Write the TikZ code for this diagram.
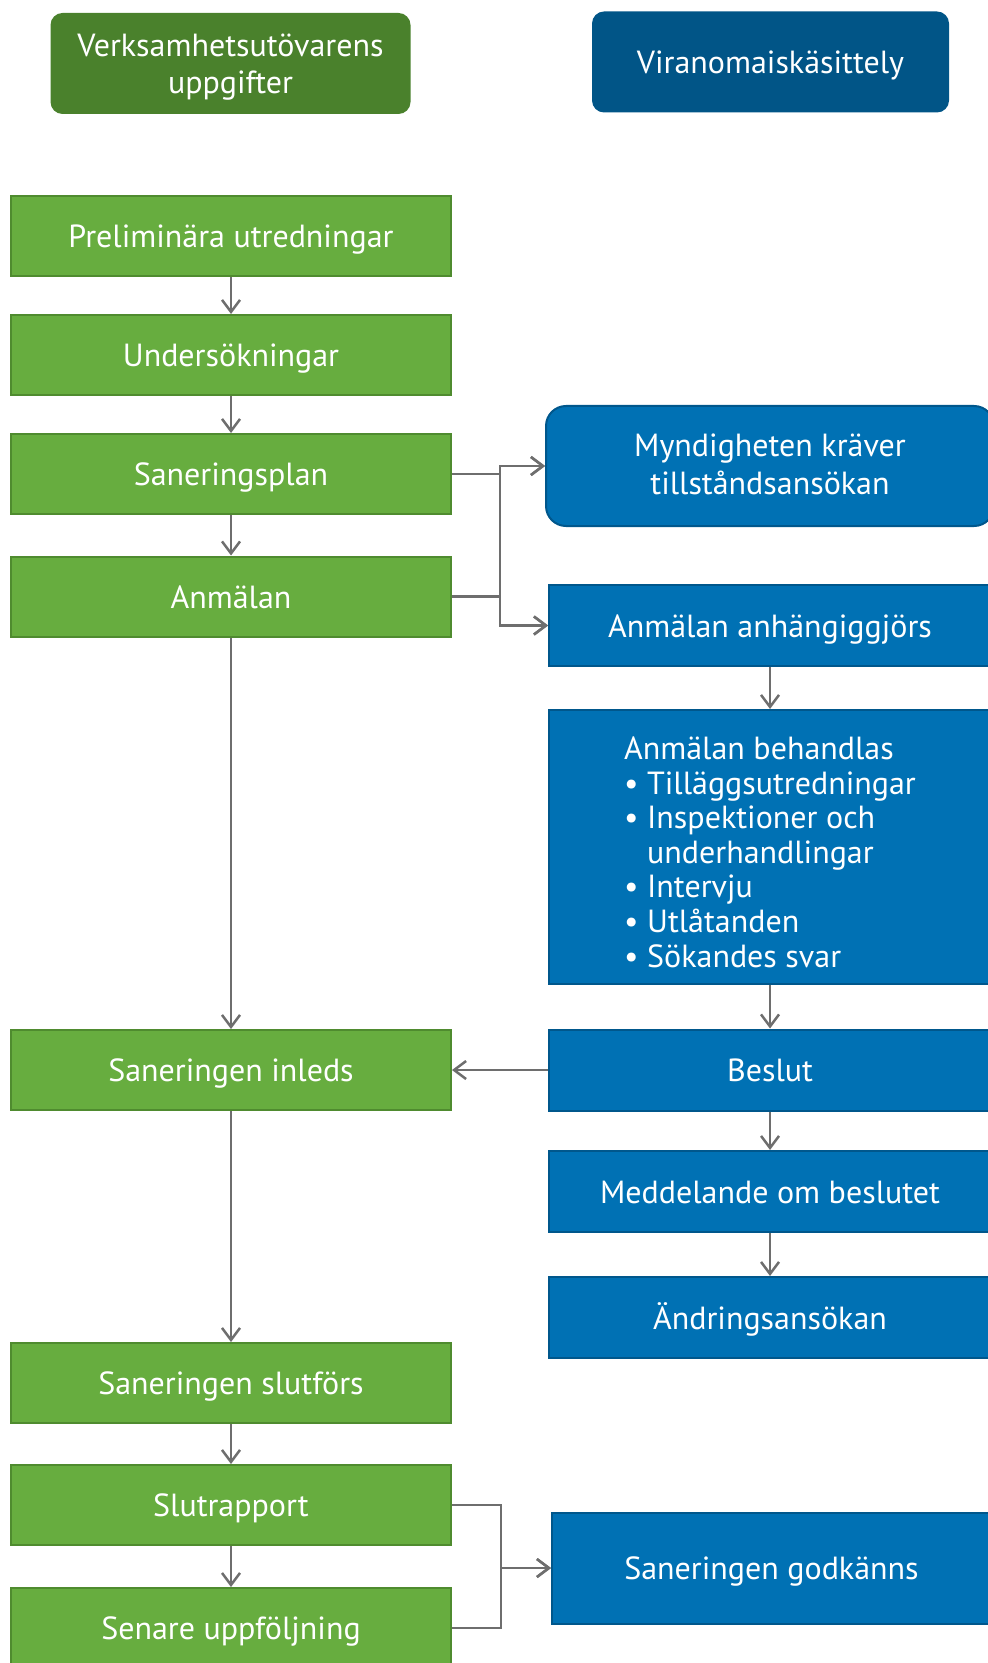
\documentclass[tikz,border=0pt]{standalone}
\usepackage{fontspec}
\setmainfont{PT Sans}
\usetikzlibrary{arrows.meta}
\definecolor{opGreen}{HTML}{67AD3F}
\definecolor{opGreenLine}{HTML}{4F8B2F}
\definecolor{opHead}{HTML}{4A812C}
\definecolor{authBlue}{HTML}{0071B4}
\definecolor{authBlueLine}{HTML}{00578C}
\definecolor{authHead}{HTML}{015587}
\definecolor{flowLine}{HTML}{6E6E6E}
\tikzset{
  sanfig/.style={
    x=0.5pt, y=-0.5pt,
    every node/.append style={font=\fontsize{16}{17.5}\selectfont, text=white},
    >={Straight Barb[length=6pt, width=9pt]},
  },
  headbox/.style={
    rounded corners=6pt, align=center, inner sep=2pt, text depth=0pt,
    minimum width=180pt, minimum height=50.5pt,
  },
  ophead/.style={headbox, fill=opHead},
  authhead/.style={headbox, fill=authHead, minimum width=178.5pt, text height=11.5pt},
  opstep/.style={
    draw=opGreenLine, line width=1pt, fill=opGreen, align=center,
    minimum width=220pt, minimum height=40pt, inner sep=2pt,
    text height=11.5pt, text depth=0pt,
  },
  authstep/.style={
    draw=authBlueLine, line width=1pt, fill=authBlue, align=center,
    minimum width=221pt, minimum height=40.5pt, inner sep=2pt,
    text height=11.5pt, text depth=0pt,
  },
  % Myndighetens krav ritas med rundade hoern.
  authround/.style={authstep, text height=, text depth=2pt, rounded corners=10pt, minimum width=224pt, minimum height=60pt},
  flow/.style={draw=flowLine, line width=1.25pt, ->},
}
\begin{document}
\begin{tikzpicture}[sanfig]
  \useasboundingbox (0,0) rectangle (987,1663);
  \node[ophead] (OpHead) at (230.5,63.5) {Verksamhetsutövarens\\[1pt]uppgifter};
  \node[authhead] (AuthHead) at (770.5,62) {Viranomaiskäsittely};
  \node[opstep] (Prelim) at (231,236.5) {Preliminära utredningar};
  \node[opstep] (Unders) at (231,355) {Undersökningar};
  \node[opstep] (Plan) at (231,474) {Saneringsplan};
  \node[opstep] (Anm) at (231,596.5) {Anmälan};
  \node[opstep] (Inleds) at (231,1070) {Saneringen inleds};
  \node[opstep] (Slutfors) at (231,1383) {Saneringen slutförs};
  \node[opstep] (Slutrapp) at (231,1505) {Slutrapport};
  \node[opstep] (Senare) at (231,1628) {Senare uppföljning};
  \node[authround] (Myndig) at (770,466) {Myndigheten kräver\\[1.6pt]tillståndsansökan};
  \node[authstep] (Anhang) at (770,625.5) {Anmälan anhängiggjörs};
  \node[authstep, text height=, minimum height=137pt, align=left] (Behandl) at (770,847)
    {\rule{0pt}{1.02em}Anmälan behandlas\\[-0.2pt]• Tilläggsutredningar\\[-0.2pt]• Inspektioner och\\[-0.2pt]\phantom{• }underhandlingar\\[-0.2pt]• Intervju\\[-0.2pt]• Utlåtanden\\[-0.2pt]• Sökandes svar};
  \node[authstep] (Beslut) at (770,1070) {Beslut};
  \node[authstep] (Meddel) at (770,1191.5) {Meddelande om beslutet};
  \node[authstep] (Andring) at (770,1317.5) {Ändringsansökan};
  \node[authstep, minimum width=219.5pt, minimum height=55.5pt] (Godk) at (771.5,1568) {Saneringen godkänns};
  \coordinate (ForkA) at (500,0);
  \coordinate (ForkB) at (501,0);
  \draw[flow] (Prelim) -- (Unders);
  \draw[flow] (Unders) -- (Plan);
  \draw[flow] (Plan) -- (Anm);
  \draw[flow] (Anm) -- (Inleds);
  \draw[flow] (Inleds) -- (Slutfors);
  \draw[flow] (Slutfors) -- (Slutrapp);
  \draw[flow] (Slutrapp) -- (Senare);
  \draw[flow] (Plan.east) -- (Plan.east -| ForkA) |- (Myndig.west);
  \draw[flow] (Plan.east) -- (Plan.east -| ForkA) |- (Anhang.west);
  \draw[flow] (Anm.east) -- (Anm.east -| ForkA) |- (Myndig.west);
  \draw[flow] (Anm.east) -- (Anm.east -| ForkA) |- (Anhang.west);
  \draw[flow] (Anhang) -- (Behandl);
  \draw[flow] (Behandl) -- (Beslut);
  \draw[flow] (Beslut) -- (Meddel);
  \draw[flow] (Meddel) -- (Andring);
  \draw[flow] (Beslut) -- (Inleds);
  \draw[flow] (Slutrapp.east) -- (Slutrapp.east -| ForkB) |- (Godk.west);
  \draw[flow] (Senare.east) -- (Senare.east -| ForkB) |- (Godk.west);
\end{tikzpicture}
\end{document}
